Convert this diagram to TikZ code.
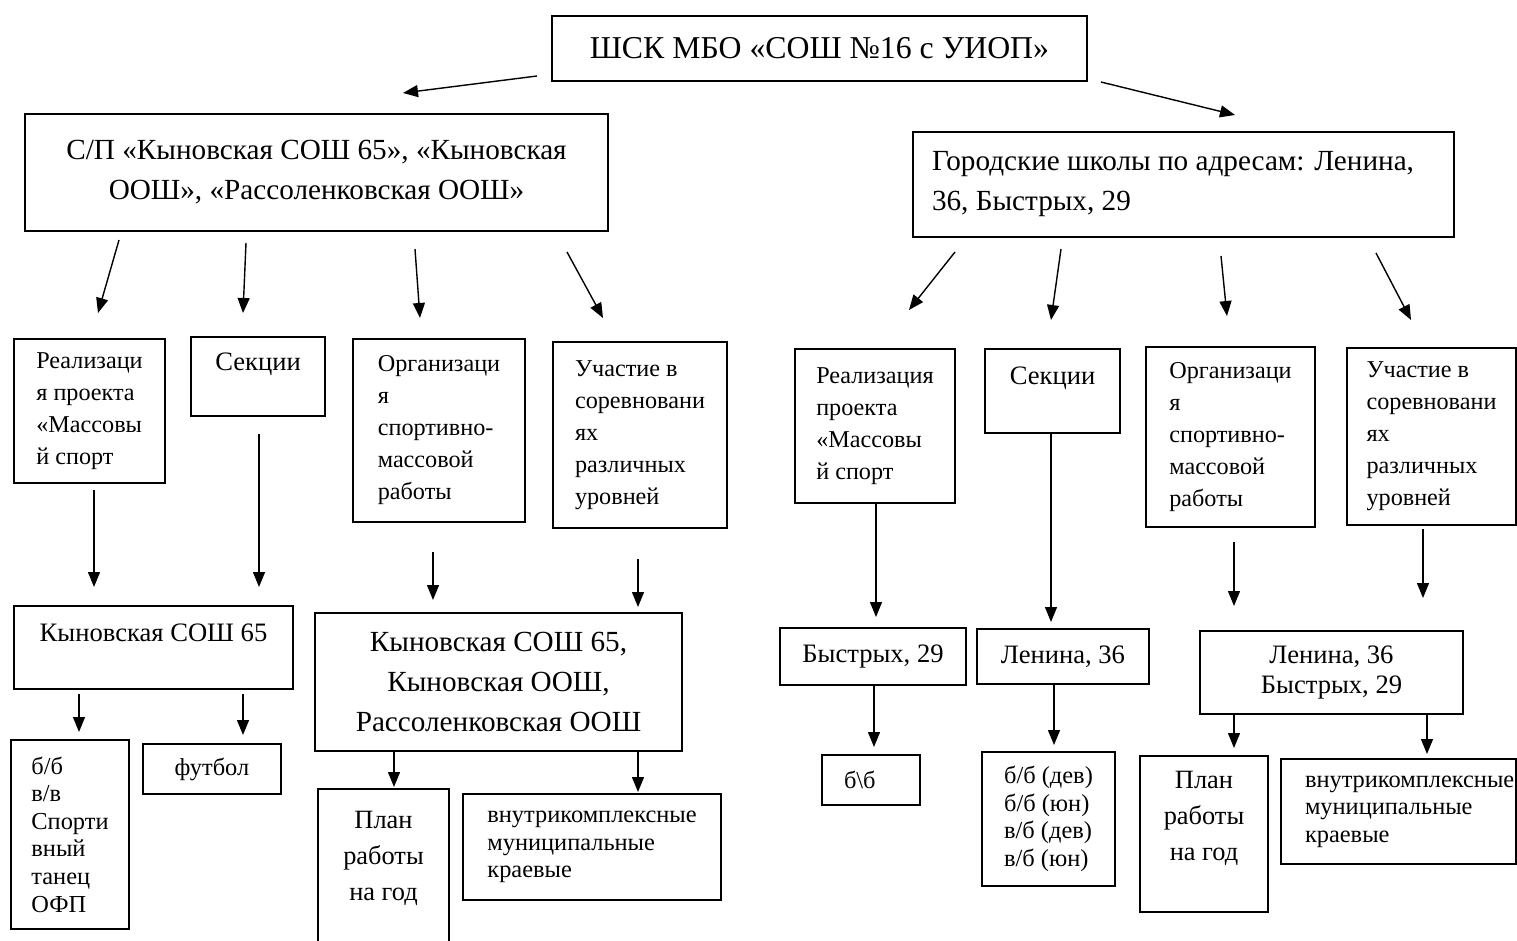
\documentclass[tikz,border=0pt]{standalone}
\usepackage{fontspec}
\setmainfont{Liberation Serif}
\usetikzlibrary{arrows.meta}
\newcommand\fTitle{\fontsize{15.9}{20}\selectfont}
\newcommand\fTop{\fontsize{14.6}{20}\selectfont}
\newcommand\fSec{\fontsize{13.3}{15}\selectfont}
\newcommand\fMid{\fontsize{12.1}{16}\selectfont}
\newcommand\fPlan{\fontsize{13.2}{18}\selectfont}
\newcommand\fSmall{\fontsize{12.2}{13.8}\selectfont}
\hyphenpenalty=10000
\tikzset{
  box/.style={draw, line width=1pt, anchor=north west, inner xsep=6pt, inner ysep=2pt, align=flush left},
  cbox/.style={box, align=center},
  arr/.style={line width=0.7pt, -{Triangle[length=7.5pt,width=6pt]}},
}
\begin{document}
\begin{tikzpicture}[x=0.5pt, y=-0.5pt]
    \useasboundingbox (0,0) rectangle (1517,941);
    % top
    \node [cbox, font=\fTitle, minimum width=267.5pt, minimum height=32.5pt] (shsk) at (551,15) {ШСК МБО «СОШ №16 с УИОП»};
    \node [cbox, font=\fTop, minimum width=291.5pt, minimum height=58.5pt] (rural) at (24,113) {С/П «Кыновская СОШ 65», «Кыновская\\ООШ», «Рассоленковская ООШ»};
    \node [box, font=\fTop, inner xsep=9.5pt, text width=251.5pt, minimum height=52.5pt] (urban) at (912,131) {Городские школы по адресам: Ленина,\\36, Быстрых, 29};
    \draw [arr] ([shift={(-14,-6)}]shsk.south west) -- ([shift={(86.5,-20)}]rural.north);
    \draw [arr] ([shift={(13,0)}]shsk.south east) -- ([shift={(51.5,-16)}]urban.north);
    % rural schools
    \node [box, font=\fMid, minimum width=75.5pt, minimum height=72pt] (rProj) at (13,338) {Реализаци\\я проекта\\«Массовы\\й спорт};
    \node [cbox, font=\fSec, minimum width=67pt, minimum height=39.5pt] (rSec) at (190,336) {Секции\\ \mbox{}};
    \node [box, font=\fMid, minimum width=86pt, minimum height=91.5pt] (rOrg) at (352,338) {Организаци\\я\\спортивно-\\массовой\\работы};
    \node [box, font=\fMid, minimum width=87pt, minimum height=93pt] (rComp) at (552,341) {Участие в\\соревновани\\ях\\различных\\уровней};
    \draw [arr] ([shift={(-197.5,8)}]rural.south) -- ([shift={(8.5,-25)}]rProj.north);
    \draw [arr] ([shift={(-70.5,11)}]rural.south) -- ([shift={(-15,-23)}]rSec.north);
    \draw [arr] ([shift={(98.5,17)}]rural.south) -- ([shift={(-19,-20)}]rOrg.north);
    \draw [arr] ([shift={(250.5,20)}]rural.south) -- ([shift={(-37,-23)}]rComp.north);
    \node [cbox, font=\fSec, minimum width=139.5pt, minimum height=41.5pt] (rKyn) at (13,605) {Кыновская СОШ 65\\ \mbox{}};
    \node [cbox, font=\fTop, minimum width=183.5pt, minimum height=69pt] (rAll) at (314,612) {Кыновская СОШ 65,\\Кыновская ООШ,\\Рассоленковская ООШ};
    \draw [arr, shorten <=3pt, shorten >=9pt] ([xshift=2.25pt]rProj.south) coordinate (s) -- (s |- rKyn.north);
    \draw [arr, shorten <=8.5pt, shorten >=9pt] ([xshift=0.5pt]rSec.south) coordinate (s) -- (s |- rKyn.north);
    \draw [arr, shorten <=14.5pt, shorten >=6pt] ([xshift=-3pt]rOrg.south) coordinate (s) -- (s |- rAll.north);
    \draw [arr, shorten <=15pt, shorten >=2.5pt] ([xshift=-1pt]rComp.south) coordinate (s) -- (s |- rAll.north);
    \node [box, font=\fSmall, minimum width=59pt, minimum height=94.5pt] (rSports) at (10,739) {б/б\\в/в\\Спорти\\вный\\танец\\ОФП};
    \node [cbox, font=\fSmall, minimum width=69pt, minimum height=25pt] (rFoot) at (142,743) {футбол};
    \node [cbox, font=\fPlan, minimum width=65.5pt, minimum height=85pt] (rPlan) at (317,788) {План\\работы\\на год\\ \mbox{}};
    \node [box, font=\fSmall, minimum width=129pt, minimum height=53pt] (rLevels) at (462,793) {внутрикомплексные\\муниципальные\\краевые};
    \draw [arr, shorten <=2pt, shorten >=3.5pt] ([xshift=-37.25pt]rKyn.south) coordinate (s) -- (s |- rSports.north);
    \draw [arr, shorten <=2pt, shorten >=4pt] ([xshift=44.75pt]rKyn.south) coordinate (s) -- (s |- rFoot.north);
    \draw [arr, shorten >=0.5pt] ([xshift=-52.25pt]rAll.south) coordinate (s) -- (s |- rPlan.north);
    \draw [arr, shorten >=0.5pt] ([xshift=69.75pt]rAll.south) coordinate (s) -- (s |- rLevels.north);
    % town schools
    \node [box, font=\fMid, minimum width=80pt, minimum height=77pt] (uProj) at (794,348) {Реализация\\проекта\\«Массовы\\й спорт};
    \node [cbox, font=\fSec, minimum width=67.5pt, minimum height=42pt] (uSec) at (984,348) {Секции\\ \mbox{}};
    \node [box, font=\fMid, minimum width=84.5pt, minimum height=90pt] (uOrg) at (1145,346) {Организаци\\я\\спортивно-\\массовой\\работы};
    \node [box, font=\fMid, minimum width=84.5pt, minimum height=88.5pt] (uComp) at (1346,347) {Участие в\\соревновани\\ях\\различных\\уровней};
    \draw [arr] ([shift={(-228.5,14)}]urban.south) -- ([shift={(34,-38)}]uProj.north);
    \draw [arr] ([shift={(-122.5,11)}]urban.south) -- ([shift={(-1.5,-28)}]uSec.north);
    \draw [arr] ([shift={(37.5,18)}]urban.south) -- ([shift={(-3.5,-30)}]uOrg.north);
    \draw [arr] ([shift={(192.5,15)}]urban.south) -- ([shift={(-20.5,-27)}]uComp.north);
    \node [cbox, font=\fSec, minimum width=93pt, minimum height=28.5pt] (uByst) at (779,627) {Быстрых, 29};
    \node [cbox, font=\fSec, minimum width=86pt, minimum height=27.5pt] (uLen) at (976,628) {Ленина, 36};
    \node [cbox, font=\fSec, minimum width=131.5pt, minimum height=41.5pt] (uBoth) at (1199,630) {Ленина, 36\\Быстрых, 29};
    \draw [arr, shorten >=5pt] ([xshift=0.5pt]uProj.south) coordinate (s) -- (s |- uByst.north);
    \draw [arr, shorten >=3pt] ([xshift=-0.75pt]uSec.south) coordinate (s) -- (s |- uLen.north);
    \draw [arr, shorten <=7pt, shorten >=12pt] ([xshift=1.75pt]uOrg.south) coordinate (s) -- (s |- uBoth.north);
    \draw [arr, shorten <=1.5pt, shorten >=16pt] ([xshift=-4.25pt]uComp.south) coordinate (s) -- (s |- uBoth.north);
    \node [box, font=\fSmall, inner xsep=11pt, text width=27pt, minimum height=25pt] (uBB) at (821,754) {б\textbackslash б};
    \node [box, font=\fSmall, minimum width=66.5pt, minimum height=67pt] (uTeams) at (981,751) {б/б (дев)\\б/б (юн)\\в/б (дев)\\в/б (юн)};
    \node [cbox, font=\fPlan, minimum width=64pt, minimum height=78pt] (uPlan) at (1139,755) {План\\работы\\на год\\ \mbox{}};
    \node [box, font=\fSmall, inner xsep=12pt, text width=93.5pt, minimum height=52.5pt] (uLevels) at (1280,758) {внутрикомплексные\\муниципальные\\краевые};
    \draw [arr, shorten >=3.5pt] ([xshift=0.5pt]uByst.south) coordinate (s) -- (s |- uBB.north);
    \draw [arr, shorten >=3pt] ([xshift=-4.5pt]uLen.south) coordinate (s) -- (s |- uTeams.north);
    \draw [arr, shorten >=3.5pt] ([xshift=-48.75pt]uBoth.south) coordinate (s) -- (s |- uPlan.north);
    \draw [arr, shorten >=2pt] ([xshift=47.75pt]uBoth.south) coordinate (s) -- (s |- uLevels.north);
\end{tikzpicture}
\end{document}
